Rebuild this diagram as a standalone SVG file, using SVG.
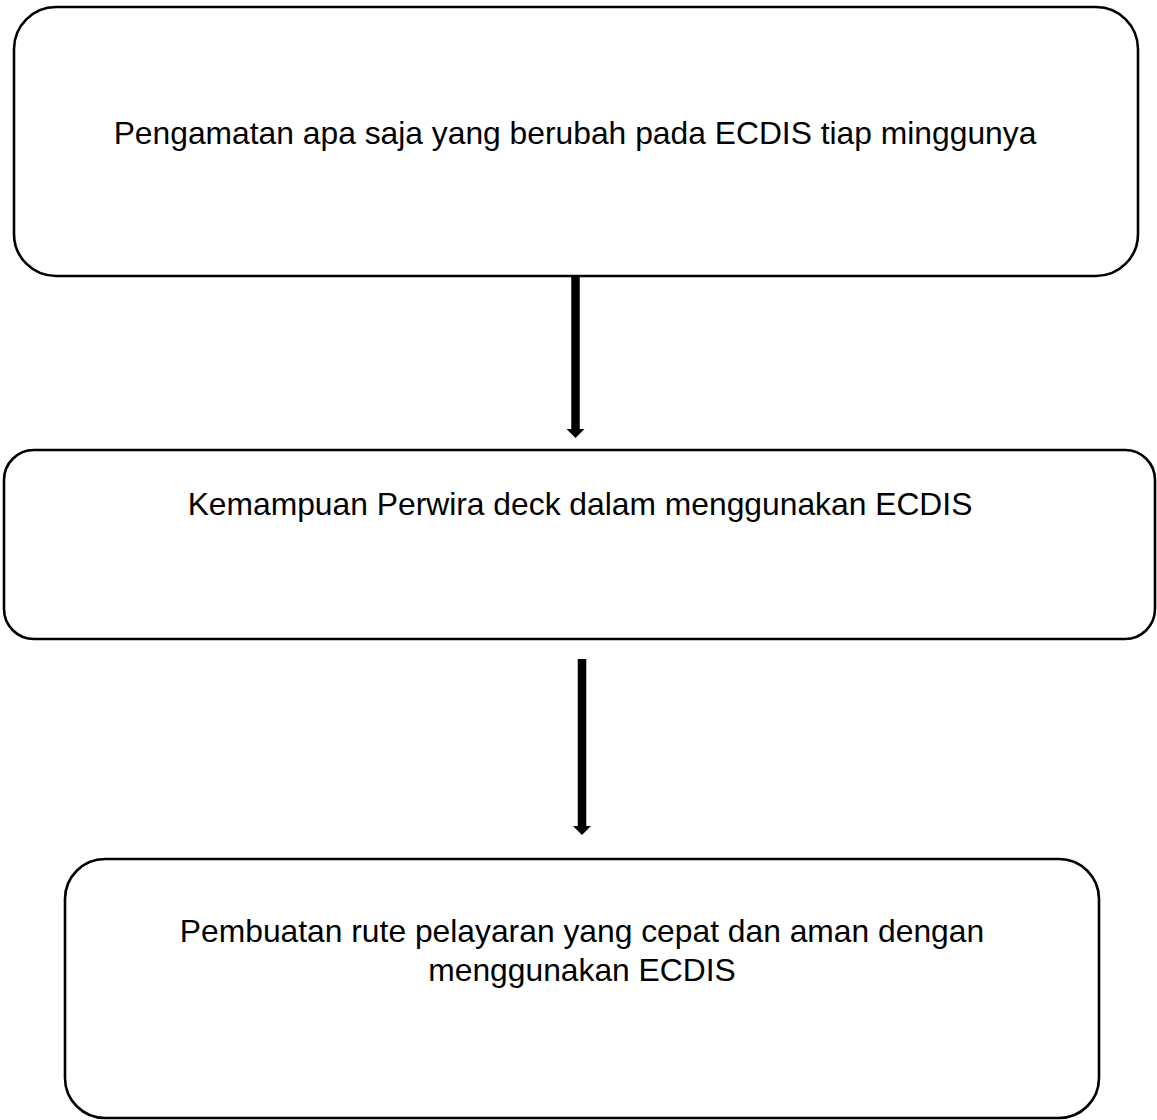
<svg xmlns="http://www.w3.org/2000/svg" width="1157" height="1120" viewBox="0 0 1157 1120">
<style>
.box{fill:#fff;stroke:#000;stroke-width:2.6}
.lbl{font-family:"Liberation Sans",Arial,sans-serif;font-size:31.8px;fill:#000;text-anchor:middle}
.conn{stroke:#000;stroke-width:8.5;fill:none}
</style>
<defs>
<marker id="ah" markerUnits="userSpaceOnUse" markerWidth="12" markerHeight="22" refX="0" refY="10" orient="auto" viewBox="0 0 12 20">
<path d="M0,1 L9,10 L0,19 z" fill="#000"/>
</marker>
</defs>
<rect width="1157" height="1120" fill="#fff"/>
<g id="node1">
<rect class="box" x="14" y="7" width="1124" height="269" rx="42" ry="42"/>
<text class="lbl" x="575" y="144">Pengamatan apa saja yang berubah pada ECDIS tiap minggunya</text>
</g>
<g id="node2">
<rect class="box" x="4" y="450" width="1151" height="189" rx="30" ry="30"/>
<text class="lbl" x="580" y="515">Kemampuan Perwira deck dalam menggunakan ECDIS</text>
</g>
<g id="node3">
<rect class="box" x="65" y="859" width="1034" height="259" rx="40" ry="40"/>
<text class="lbl" x="582" y="942">Pembuatan rute pelayaran yang cepat dan aman dengan</text>
<text class="lbl" x="582" y="981">menggunakan ECDIS</text>
</g>
<g id="connectors">
<line class="conn" x1="575.5" y1="277" x2="575.5" y2="429" marker-end="url(#ah)"/>
<line class="conn" x1="582" y1="659" x2="582" y2="826" marker-end="url(#ah)"/>
</g>
</svg>
